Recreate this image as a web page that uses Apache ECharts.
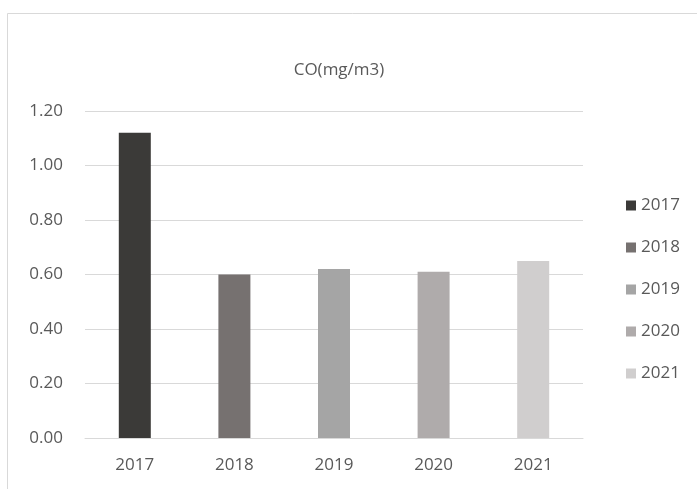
<!DOCTYPE html>
<html>
<head>
<meta charset="utf-8">
<script src="https://cdn.jsdelivr.net/npm/echarts@6/dist/echarts.min.js"></script>
<style>
  html, body { margin: 0; padding: 0; background: #fff; }
  #chart { width: 697px; height: 489px; }
</style>
</head>
<body>
<div id="chart"></div>
<script>
// Annual mean CO concentration
const years = ['2017', '2018', '2019', '2020', '2021'];
const coValues = [1.12, 0.60, 0.62, 0.61, 0.65];
const yTicks = ['0.00', '0.20', '0.40', '0.60', '0.80', '1.00', '1.20'];
const barColors = ['#3B3A38', '#767170', '#A5A5A5', '#AFABAB', '#D0CECE'];

const FONT = '"Open Sans", "Noto Sans", sans-serif';
const TEXT_COLOR = '#595959';

// One series per year so the legend lists each year; stacking keeps each bar centered on its category
const series = years.map((y, i) => ({
  name: y,
  type: 'bar',
  stack: 'co',
  barWidth: 32,
  itemStyle: { color: barColors[i] },
  data: years.map((_, j) => (j === i ? coValues[i] : '-'))
}));

const chart = echarts.init(document.getElementById('chart'), null, { renderer: 'canvas' });
chart.setOption({
  animation: false,
  backgroundColor: '#ffffff',
  graphic: [{
    type: 'rect',
    shape: { x: 7.5, y: 13.5, width: 800, height: 600 },
    style: { fill: 'none', stroke: '#D9D9D9', lineWidth: 1 },
    silent: true
  }],
  title: {
    text: 'CO(mg/m3)',
    left: 334,
    textAlign: 'center',
    top: 57,
    textStyle: { fontFamily: FONT, fontSize: 17, fontWeight: 'normal', color: TEXT_COLOR }
  },
  legend: {
    orient: 'vertical',
    left: 626,
    top: 197,
    padding: 0,
    itemWidth: 10,
    itemHeight: 10,
    itemGap: 25,
    icon: 'rect',
    textStyle: { fontFamily: FONT, fontSize: 17, color: TEXT_COLOR, lineHeight: 17 },
    data: years
  },
  grid: { left: 85, right: 114, top: 111, bottom: 51, containLabel: false },
  xAxis: {
    type: 'category',
    data: years,
    axisLine: { lineStyle: { color: '#D9D9D9', width: 1 } },
    axisTick: { show: false },
    axisLabel: { fontFamily: FONT, fontSize: 17, color: TEXT_COLOR, margin: 19 }
  },
  yAxis: {
    type: 'value',
    min: 0,
    max: 1.2,
    interval: 0.2,
    axisLine: { show: false },
    axisTick: { show: false },
    splitLine: { lineStyle: { color: '#D9D9D9', width: 1 } },
    axisLabel: {
      fontFamily: FONT, fontSize: 17, color: TEXT_COLOR, margin: 22,
      formatter: (v) => yTicks[Math.round(v / 0.2)]
    }
  },
  series: series
});
</script>
</body>
</html>
